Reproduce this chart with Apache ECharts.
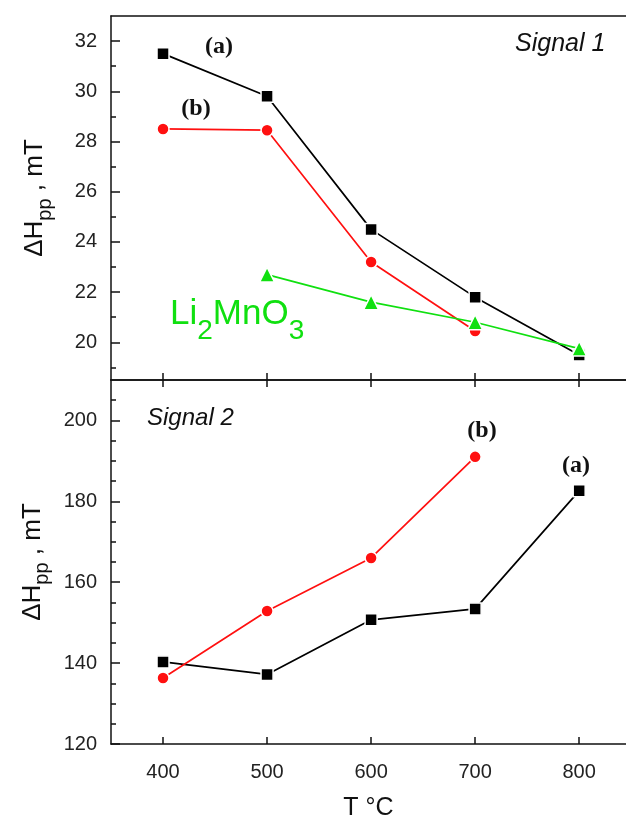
<!DOCTYPE html>
<html>
<head>
<meta charset="utf-8">
<script src="https://cdn.jsdelivr.net/npm/echarts@6/dist/echarts.min.js"></script>
<style>
  html, body { margin: 0; padding: 0; background: #fff; }
  #chart { width: 626px; height: 818px; }
</style>
</head>
<body>
<div id="chart"></div>
<script>
// temperatures (°C)
const temps = [400, 500, 600, 700, 800]
const tempsB = [400, 500, 600, 700]
const tempsLi = [500, 600, 700, 800]
const xTicks = [400, 500, 600, 700, 800]

// Signal 1 linewidth, mT
const sig1A = [31.5, 29.8, 24.5, 21.8, 19.5]
const sig1B = [28.5, 28.45, 23.2, 20.45]
const sig1Li = [22.7, 21.6, 20.8, 19.75]

// Signal 2 linewidth, mT
const sig2A = [140.3, 137.2, 150.7, 153.4, 182.6]
const sig2B = [136.3, 152.9, 166.0, 191.0]

// y tick values
const y1Ticks = [20, 22, 24, 26, 28, 30, 32]
const y1Minor = [19, 21, 23, 25, 27, 29, 31]
const y2Ticks = [120, 140, 160, 180, 200]
const y2Minor = [125, 130, 135, 145, 150, 155, 165, 170, 175, 185, 190, 195, 205]

const BLACK = '#000'
const RED = '#ff1010'
const GREEN = '#10e010'
const FONT = 'Liberation Sans, Arial, sans-serif'

function pairs(xs, ys) {
  return xs.map((x, i) => [x, ys[i]])
}

const chart = echarts.init(document.getElementById('chart'))

const yName = {
  name: '{m|ΔH}{s|pp}{m| , mT}',
  nameLocation: 'middle',
  nameRotate: 90,
  nameTextStyle: {
    rich: {
      m: { fontFamily: FONT, fontSize: 26, color: '#111', lineHeight: 40 },
      s: { fontFamily: FONT, fontSize: 20, color: '#111', lineHeight: 20, verticalAlign: 'bottom' }
    }
  }
}

const axisLine = { show: true, onZero: false, lineStyle: { color: '#111', width: 1.5 } }

function mainY(grid, min, max, ticks) {
  return Object.assign({
    type: 'value', gridIndex: grid, min: min, max: max,
    nameGap: 56,
    axisLine: axisLine,
    axisTick: { show: true, inside: true, length: 9, customValues: ticks, lineStyle: { color: '#111', width: 1.5 } },
    axisLabel: { customValues: ticks, fontFamily: FONT, fontSize: 20, color: '#222', margin: 14 },
    splitLine: { show: false }
  }, yName)
}

function minorY(grid, min, max, ticks) {
  return {
    type: 'value', gridIndex: grid, min: min, max: max, position: 'left',
    axisLine: { show: false },
    axisTick: { show: true, inside: true, length: 5, customValues: ticks, lineStyle: { color: '#111', width: 1.5 } },
    axisLabel: { show: false },
    splitLine: { show: false }
  }
}

function xAx(grid, pos, ticks, labels) {
  return {
    type: 'value', gridIndex: grid, min: 350, max: 845, position: pos,
    axisLine: axisLine,
    axisTick: { show: ticks, inside: true, length: 7, customValues: xTicks, lineStyle: { color: '#111', width: 1.5 } },
    axisLabel: { show: labels, customValues: xTicks, fontFamily: FONT, fontSize: 20, color: '#222', margin: 18 },
    splitLine: { show: false }
  }
}

function line(name, xi, yi, data, color, symbol, size) {
  return {
    name: name, type: 'line', xAxisIndex: xi, yAxisIndex: yi, data: data,
    symbol: symbol, symbolSize: size,
    lineStyle: { color: color, width: 1.7 },
    itemStyle: { color: color, borderColor: '#fff', borderWidth: 1.5 },
    emphasis: { disabled: true },
    z: 3
  }
}

const xBottom = xAx(1, 'bottom', true, true)
xBottom.name = 'T °C'
xBottom.nameLocation = 'middle'
xBottom.nameGap = 52
xBottom.nameTextStyle = { fontFamily: FONT, fontSize: 25, color: '#111' }

chart.setOption({
  animation: false,
  backgroundColor: '#fff',
  grid: [
    { left: 111, right: 0, top: 16, height: 364, outerBoundsMode: 'none' },
    { left: 111, right: 0, top: 380, height: 364, outerBoundsMode: 'none' }
  ],
  xAxis: [
    xAx(0, 'bottom', true, false),
    xBottom,
    xAx(0, 'top', false, false),
    xAx(1, 'top', true, false)
  ],
  yAxis: [
    mainY(0, 18.5, 33, y1Ticks),
    mainY(1, 120, 210, y2Ticks),
    minorY(0, 18.5, 33, y1Minor),
    minorY(1, 120, 210, y2Minor)
  ],
  series: [
    line('(a)', 0, 0, pairs(temps, sig1A), BLACK, 'rect', 12),
    line('(b)', 0, 0, pairs(tempsB, sig1B), RED, 'circle', 12),
    line('Li2MnO3', 0, 0, pairs(tempsLi, sig1Li), GREEN, 'triangle', 15),
    line('(a)', 1, 1, pairs(temps, sig2A), BLACK, 'rect', 12),
    line('(b)', 1, 1, pairs(tempsB, sig2B), RED, 'circle', 12)
  ],
  graphic: [
    { type: 'text', x: 219, y: 47, style: { text: '(a)', font: 'bold 24px "Liberation Serif", "Times New Roman", serif', fill: '#111', align: 'center', verticalAlign: 'middle' } },
    { type: 'text', x: 196, y: 109, style: { text: '(b)', font: 'bold 24px "Liberation Serif", "Times New Roman", serif', fill: '#111', align: 'center', verticalAlign: 'middle' } },
    { type: 'text', x: 482, y: 431, style: { text: '(b)', font: 'bold 24px "Liberation Serif", "Times New Roman", serif', fill: '#111', align: 'center', verticalAlign: 'middle' } },
    { type: 'text', x: 576, y: 466, style: { text: '(a)', font: 'bold 24px "Liberation Serif", "Times New Roman", serif', fill: '#111', align: 'center', verticalAlign: 'middle' } },
    { type: 'text', x: 515, y: 44, style: { text: 'Signal 1', font: 'italic 25px "Liberation Sans", Arial, sans-serif', fill: '#111', align: 'left', verticalAlign: 'middle' } },
    { type: 'text', x: 147, y: 418, style: { text: 'Signal 2', font: 'italic 24px "Liberation Sans", Arial, sans-serif', fill: '#111', align: 'left', verticalAlign: 'middle' } },
    {
      type: 'text', x: 170, y: 283,
      style: {
        text: '{m|Li}{s|2}{m|MnO}{s|3}',
        align: 'left', verticalAlign: 'top',
        rich: {
          m: { fontFamily: FONT, fontSize: 35, fill: GREEN, lineHeight: 62 },
          s: { fontFamily: FONT, fontSize: 28, fill: GREEN, lineHeight: 28, verticalAlign: 'bottom' }
        }
      }
    }
  ]
})
</script>
</body>
</html>
